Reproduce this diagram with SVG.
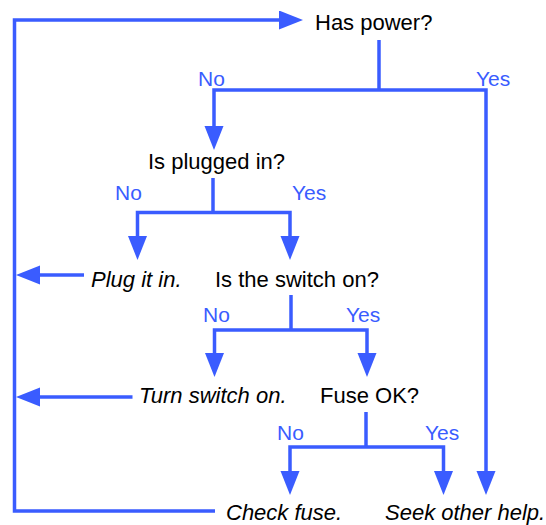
<svg xmlns="http://www.w3.org/2000/svg" width="546" height="525" viewBox="0 0 546 525">
<style>
  .q { font-family: "Liberation Sans", Arial, Helvetica, sans-serif; font-size: 22px; fill: #000; }
  .a { font-family: "Liberation Sans", Arial, Helvetica, sans-serif; font-size: 22px; font-style: italic; fill: #000; }
  .lbl { font-family: "Liberation Sans", Arial, Helvetica, sans-serif; font-size: 21px; fill: #3a5cff; }
  .c { fill: none; stroke: #3a5cff; stroke-width: 3.5; stroke-linejoin: miter; }
</style>
<defs>
  <marker id="arr" markerUnits="userSpaceOnUse" markerWidth="26" markerHeight="20" refX="2" refY="9.5" orient="auto-start-reverse">
    <path d="M0,0 L24,9.5 L0,19 z" fill="#3a5cff"/>
  </marker>
</defs>
<rect width="546" height="525" fill="#fff"/>
<g id="connectors">
  <path class="c" d="M215,511 H14.5 V20 H281" marker-end="url(#arr)"/>
  <path class="c" d="M84,275 H38" marker-end="url(#arr)"/>
  <path class="c" d="M132.5,397 H38" marker-end="url(#arr)"/>
  <path class="c" d="M379,40 V90"/>
  <path class="c" d="M214,128 V90 H486 V473" marker-start="url(#arr)" marker-end="url(#arr)"/>
  <path class="c" d="M213,178 V212.5"/>
  <path class="c" d="M137.5,238 V212.5 H290 V238" marker-start="url(#arr)" marker-end="url(#arr)"/>
  <path class="c" d="M291,295 V330"/>
  <path class="c" d="M214.5,355 V330 H367 V355" marker-start="url(#arr)" marker-end="url(#arr)"/>
  <path class="c" d="M366,412 V447"/>
  <path class="c" d="M290,473 V447 H443.5 V473" marker-start="url(#arr)" marker-end="url(#arr)"/>
</g>
<g id="labels">
  <text class="lbl" x="198" y="86">No</text>
  <text class="lbl" x="476" y="86">Yes</text>
  <text class="lbl" x="115" y="200">No</text>
  <text class="lbl" x="292" y="200">Yes</text>
  <text class="lbl" x="203" y="322">No</text>
  <text class="lbl" x="346" y="322">Yes</text>
  <text class="lbl" x="277" y="440">No</text>
  <text class="lbl" x="425" y="440">Yes</text>
</g>
<g id="has-power"><text class="q" x="315" y="30">Has power?</text></g>
<g id="is-plugged-in"><text class="q" x="148" y="169">Is plugged in?</text></g>
<g id="plug-it-in"><text class="a" x="91" y="287">Plug it in.</text></g>
<g id="switch-on"><text class="q" x="215" y="287">Is the switch on?</text></g>
<g id="turn-switch-on"><text class="a" x="139" y="403">Turn switch on.</text></g>
<g id="fuse-ok"><text class="q" x="320" y="403">Fuse OK?</text></g>
<g id="check-fuse"><text class="a" x="226" y="520">Check fuse.</text></g>
<g id="seek-help"><text class="a" x="385" y="520">Seek other help.</text></g>
</svg>
